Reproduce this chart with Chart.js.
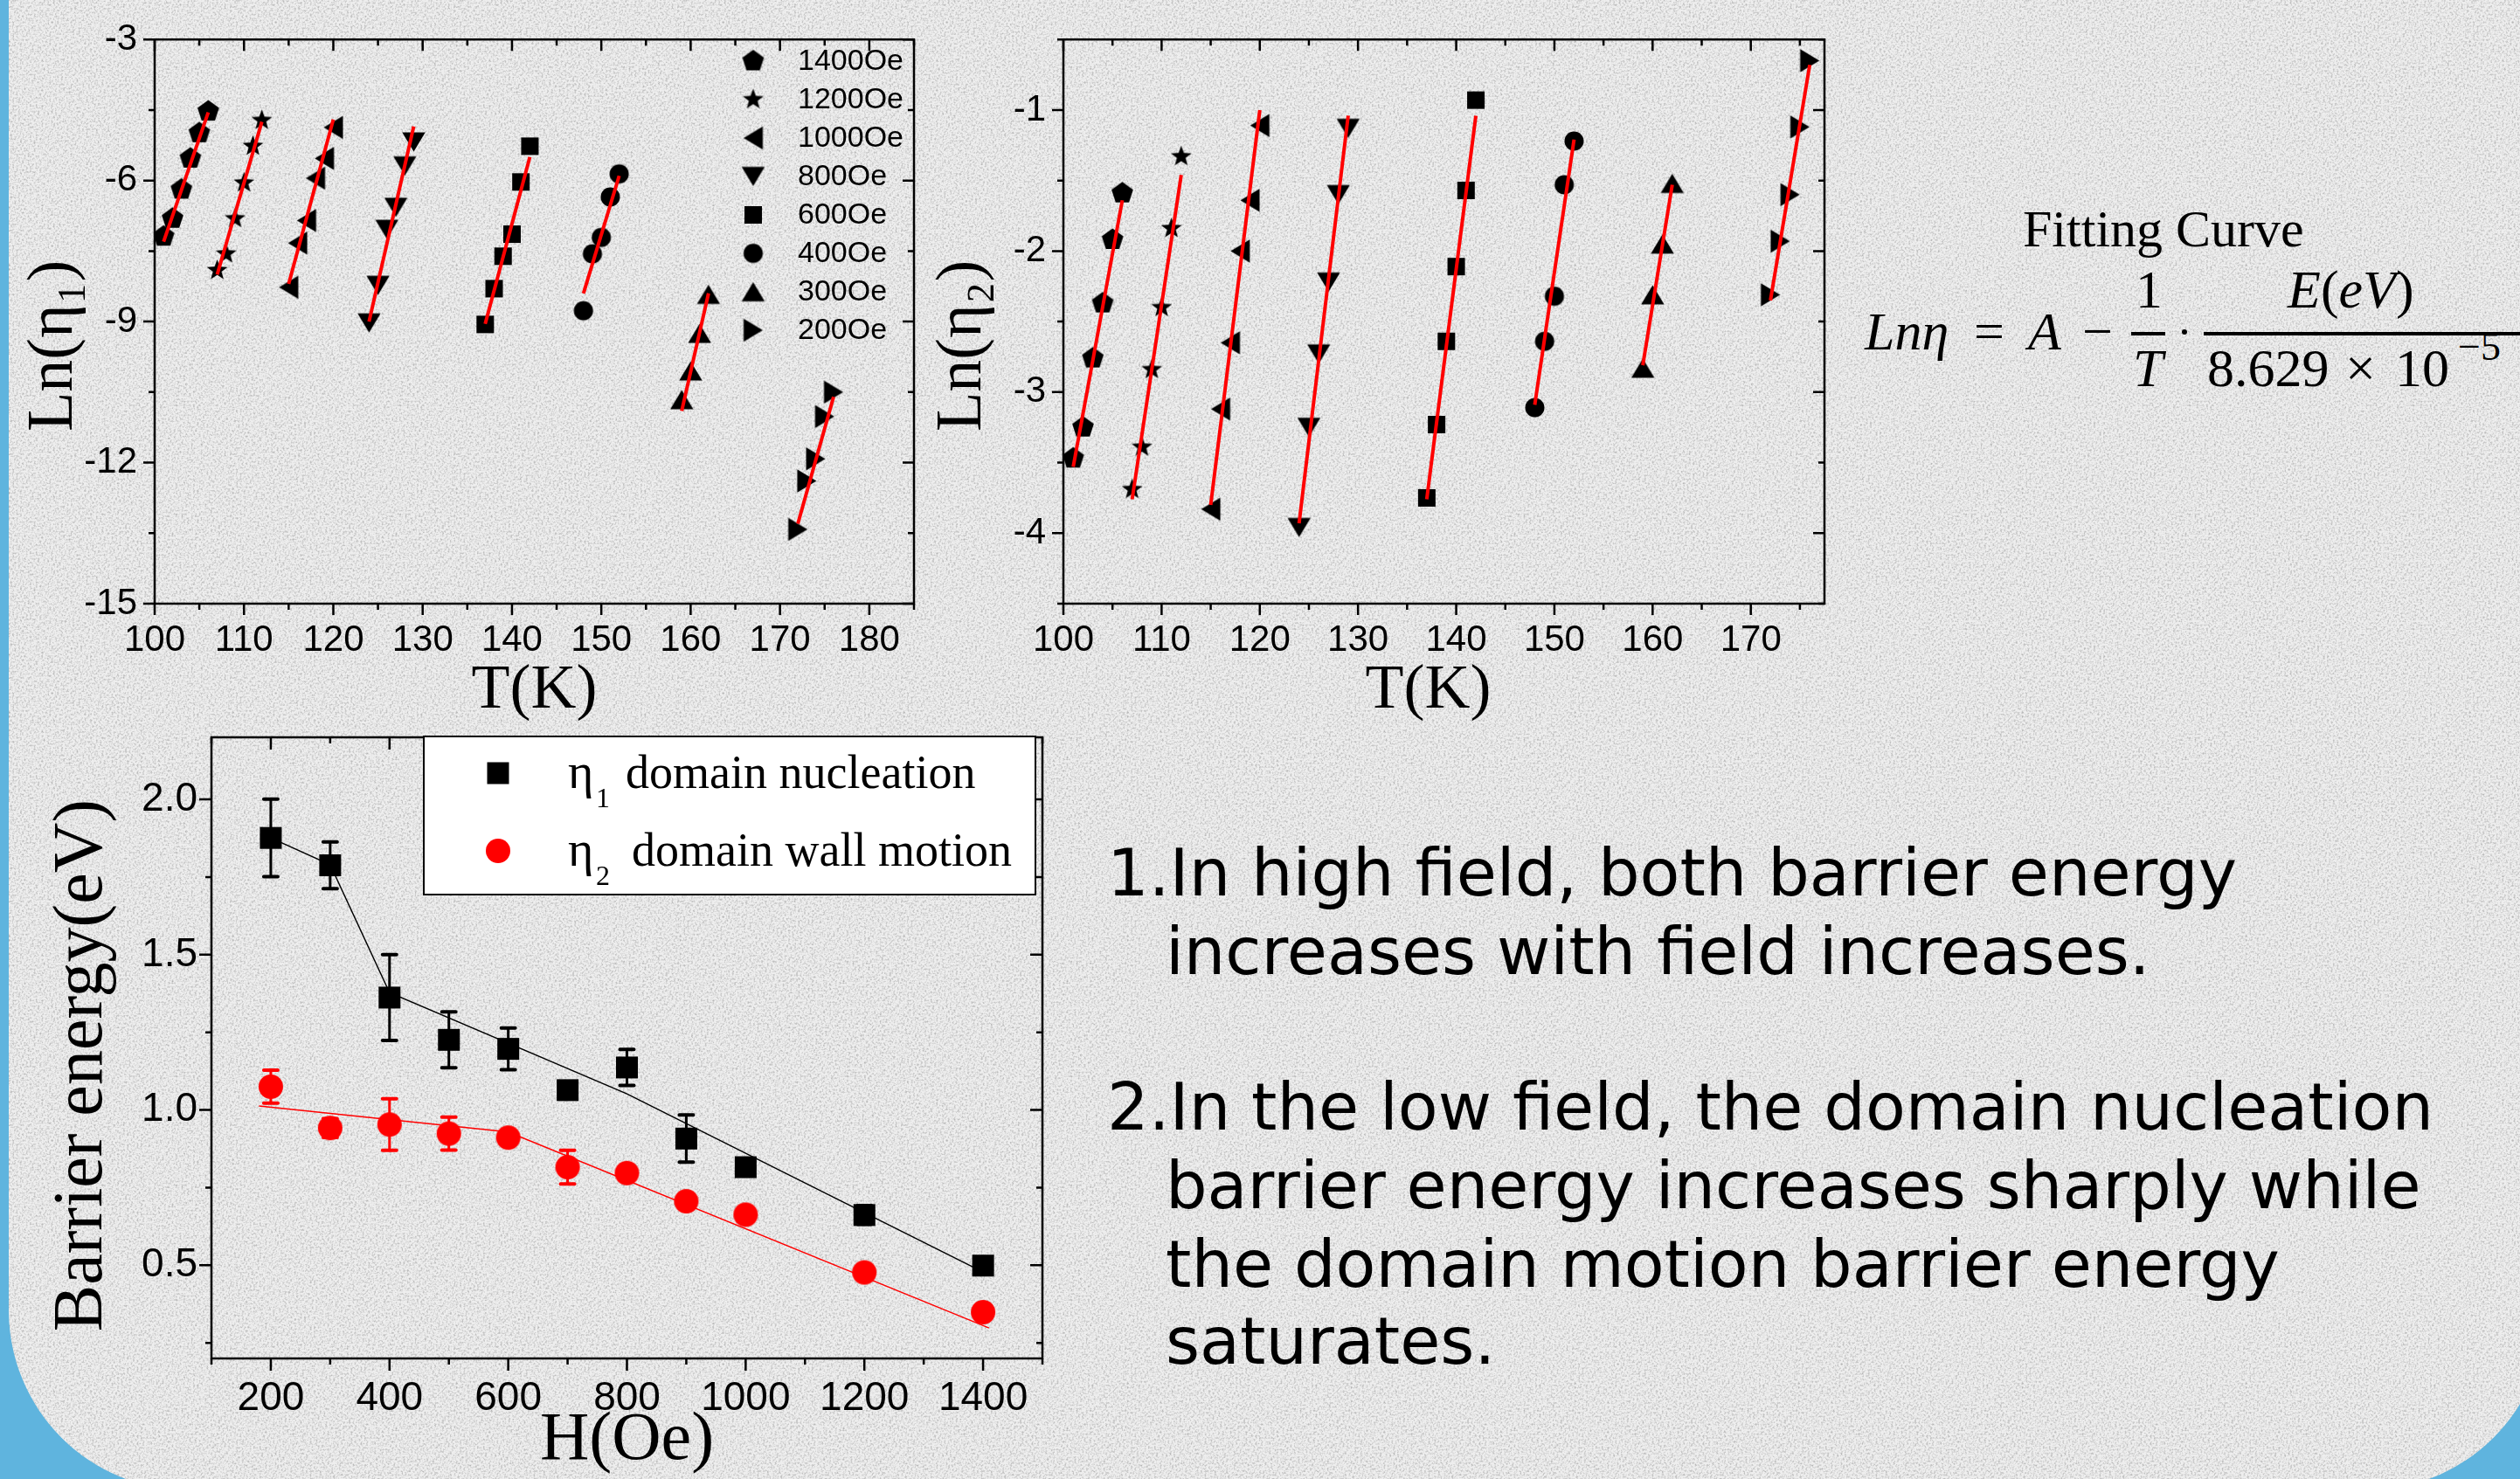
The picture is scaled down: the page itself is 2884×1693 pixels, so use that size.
<!DOCTYPE html>
<html>
<head>
<meta charset="utf-8">
<script src="https://cdn.jsdelivr.net/npm/chart.js@4.4.0/dist/chart.umd.min.js"></script>
<style>
html, body { margin: 0; padding: 0; width: 2884px; height: 1693px; overflow: hidden; background: #5fb4de; position: relative; }
#panel {
    position: absolute; left: 10px; top: -300px; width: 2904px; height: 2006px; border-radius: 206px;
    background: #eeeeee url("data:image/svg+xml,%3Csvg xmlns='http://www.w3.org/2000/svg' width='256' height='256'%3E%3Cfilter id='n'%3E%3CfeTurbulence type='fractalNoise' baseFrequency='0.45' numOctaves='2' stitchTiles='stitch'/%3E%3CfeColorMatrix values='0 0 0 0 0 0 0 0 0 0 0 0 0 0 0 0 0 0 -1.4 0.78'/%3E%3C/filter%3E%3Crect width='100%25' height='100%25' filter='url(%23n)' opacity='0.4'/%3E%3C/svg%3E");
}
canvas { position: absolute; display: block; }
#c1 { left: 0; top: 0; }
#c2 { left: 1040px; top: 0; }
#c3 { left: 0; top: 800px; }
.line { position: absolute; font-family: "DejaVu Sans", Verdana, sans-serif; font-size: 75px; line-height: 75px; color: #000; white-space: nowrap; }
.m { position: absolute; font-family: "Liberation Serif", "Times New Roman", serif; font-size: 62px; line-height: 62px; color: #000; white-space: nowrap; }
.i { font-style: italic; }
.bar { position: absolute; background: #000; height: 4px; }
</style>
</head>
<body>
<div id="panel"></div>
<canvas id="c1" width="1080" height="860"></canvas>
<canvas id="c2" width="1100" height="860"></canvas>
<canvas id="c3" width="1220" height="893"></canvas>

<div class="m" style="left:2315px; top:232px; font-size:60px; line-height:60px;">Fitting Curve</div>
<div class="m i" style="left:2134px; top:348px;">Lnη</div>
<div class="m" style="left:2259px; top:348px;">=</div>
<div class="m i" style="left:2321px; top:348px;">A</div>
<div class="m" style="left:2383px; top:348px;">−</div>
<div class="m" style="left:2444px; top:300px;">1</div>
<div class="bar" style="left:2439px; top:380px; width:39px;"></div>
<div class="m i" style="left:2441px; top:390px;">T</div>
<div class="bar" style="left:2497px; top:377px; width:6px; height:6px; border-radius:3px;"></div>
<div class="bar" style="left:2522px; top:380px; width:420px;"></div>
<div class="m" style="left:2618px; top:300px;"><span class="i">E</span>(<span class="i">eV</span>)</div>
<div class="m" style="left:2526px; top:390px;">8.629</div>
<div class="m" style="left:2684px; top:390px;">×</div>
<div class="m" style="left:2741px; top:390px;">10</div>
<div class="m" style="left:2813px; top:374px; font-size:46px; line-height:46px;">−5</div>

<div class="line" style="left:1267px; top:962px;">1.In high field, both barrier energy</div>
<div class="line" style="left:1334px; top:1052px;">increases with field increases.</div>
<div class="line" style="left:1267px; top:1230px;">2.In the low field, the domain nucleation</div>
<div class="line" style="left:1334px; top:1320px;">barrier energy increases sharply while</div>
<div class="line" style="left:1334px; top:1410px;">the domain motion barrier energy</div>
<div class="line" style="left:1334px; top:1498px;">saturates.</div>

<script>
// fields measured in the two Arrhenius panels (same order in every array below)
const fieldLabels = ['1400Oe', '1200Oe', '1000Oe', '800Oe', '600Oe', '400Oe', '300Oe', '200Oe'];
const fieldShapes = ['pentagon', 'star', 'left', 'down', 'square', 'circle', 'up', 'right'];

const temps = [
    [101, 102, 103, 104, 105, 106],
    [107, 108, 109, 110, 111, 112],
    [115, 116, 117, 118, 119, 120],
    [124, 125, 126, 127, 128, 129],
    [137, 138, 139, 140, 141, 142],
    [148, 149, 150, 151, 152],
    [159, 160, 161, 162],
    [172, 173, 174, 175, 176]
];

const lnEta1 = [
    [-7.19, -6.81, -6.19, -5.53, -4.99, -4.53],
    [-7.91, -7.56, -6.81, -6.05, -5.27, -4.72],
    [-8.27, -7.33, -6.85, -5.95, -5.53, -4.87],
    [-9.03, -8.23, -7.04, -6.57, -5.69, -5.18],
    [-9.06, -8.30, -7.61, -7.14, -6.03, -5.27],
    [-8.77, -7.56, -7.21, -6.35, -5.86],
    [-10.66, -10.05, -9.25, -8.42],
    [-13.42, -12.39, -11.92, -11.02, -10.50]
];

const lnEta2 = [
    [-3.47, -3.25, -2.76, -2.37, -1.92, -1.59],
    [-3.69, -3.39, -2.84, -2.40, -1.84, -1.33],
    [-3.83, -3.12, -2.65, -2.00, -1.64, -1.11],
    [-3.96, -3.25, -2.73, -2.22, -1.60, -1.13],
    [-3.75, -3.23, -2.64, -2.11, -1.57, -0.93],
    [-3.11, -2.64, -2.32, -1.53, -1.22],
    [-2.83, -2.31, -1.95, -1.52],
    [-2.31, -1.93, -1.60, -1.12, -0.65]
];

// end points of the red fitted lines
const fitT = [[101, 106], [107, 112], [115, 120], [124, 129], [137, 142], [148, 152], [159, 162], [172, 176]];
const fitEta1 = [[-7.3, -4.55], [-8.0, -4.75], [-8.2, -4.7], [-9.0, -4.85], [-9.05, -5.5], [-8.4, -5.9], [-10.9, -8.4], [-13.3, -10.6]];
const fitEta2 = [[-3.53, -1.64], [-3.76, -1.46], [-3.80, -1.0], [-3.93, -1.04], [-3.76, -1.04], [-3.09, -1.21], [-2.81, -1.53], [-2.35, -0.68]];

// barrier energy vs field
const fieldH = [200, 300, 400, 500, 600, 700, 800, 900, 1000, 1200, 1400];
const energyEta1 = [1.876, 1.788, 1.362, 1.226, 1.197, 1.064, 1.137, 0.908, 0.816, 0.662, 0.499];
const errorEta1 = [0.125, 0.075, 0.138, 0.09, 0.067, 0.02, 0.058, 0.076, 0.025, 0.03, 0.02];
const energyEta2 = [1.075, 0.942, 0.953, 0.924, 0.911, 0.816, 0.797, 0.706, 0.663, 0.477, 0.349];
const errorEta2 = [0.053, 0.03, 0.083, 0.053, 0.02, 0.054, 0.02, 0.02, 0.02, 0.02, 0.02];
const lineEta1H = [200, 300, 400, 800, 1400];
const lineEta1E = [1.876, 1.79, 1.378, 1.052, 0.478];
const lineEta2H = [180, 600, 1410];
const lineEta2E = [1.013, 0.929, 0.298];
const energyLabels = ['domain nucleation', 'domain wall motion'];
const energySubs = ['1', '2'];

// axis ticks (all marks, and the ones that carry a label)
const ticks1X = [100, 105, 110, 115, 120, 125, 130, 135, 140, 145, 150, 155, 160, 165, 170, 175, 180, 185];
const major1X = [100, 110, 120, 130, 140, 150, 160, 170, 180];
const ticks1Y = [-15, -13.5, -12, -10.5, -9, -7.5, -6, -4.5, -3];
const major1Y = [-15, -12, -9, -6, -3];
const ticks2X = [100, 105, 110, 115, 120, 125, 130, 135, 140, 145, 150, 155, 160, 165, 170, 175];
const major2X = [100, 110, 120, 130, 140, 150, 160, 170];
const ticks2Y = [-4.5, -4, -3.5, -3, -2.5, -2, -1.5, -1, -0.5];
const major2Y = [-4, -3, -2, -1];
const ticks3X = [100, 200, 300, 400, 500, 600, 700, 800, 900, 1000, 1100, 1200, 1300, 1400, 1500];
const major3X = [200, 400, 600, 800, 1000, 1200, 1400];
const ticks3Y = [0.25, 0.5, 0.75, 1.0, 1.25, 1.5, 1.75, 2.0];
const major3Y = [0.5, 1.0, 1.5, 2.0];

function marker(shape, d, color) {
    const c = document.createElement('canvas');
    const n = Math.ceil(d * 1.4) + 2;
    c.width = n;
    c.height = n;
    const g = c.getContext('2d');
    g.fillStyle = color;
    g.translate(n / 2, n / 2);
    const r = d / 2;
    g.beginPath();
    if (shape === 'square') {
        g.rect(-r, -r, d, d);
    } else if (shape === 'circle') {
        g.arc(0, 0, r, 0, Math.PI * 2);
    } else if (shape === 'pentagon' || shape === 'star') {
        const k = shape === 'star' ? 10 : 5;
        for (let i = 0; i < k; i++) {
            const a = -Math.PI / 2 + i * 2 * Math.PI / k;
            const rr = shape === 'star' && i % 2 ? r * 0.42 : r;
            g.lineTo(Math.cos(a) * rr, Math.sin(a) * rr);
        }
        g.closePath();
    } else {
        const rot = { up: 0, right: 90, down: 180, left: 270 }[shape] * Math.PI / 180;
        g.rotate(rot);
        g.moveTo(0, -r);
        g.lineTo(r * 1.2, r);
        g.lineTo(-r * 1.2, r);
        g.closePath();
    }
    g.fill();
    return c;
}

const shapeSize = { pentagon: 26, star: 25, left: 22, down: 22, up: 22, right: 22, square: 20, circle: 22 };
const fieldMarkers = fieldShapes.map(s => marker(s, shapeSize[s], '#000'));
const squareMarker = marker('square', 25, '#000');
const circleMarker = marker('circle', 28, '#ff0000');

function axis(o) {
    return {
        type: 'linear',
        min: o.min,
        max: o.max,
        grid: { display: false, drawTicks: false },
        border: { display: false },
        afterBuildTicks: s => { s.ticks = o.all.map(v => ({ value: v })); },
        afterFit: s => { if (s.isHorizontal()) s.height = o.size; else s.width = o.size; },
        ticks: {
            autoSkip: false,
            maxRotation: 0,
            padding: o.pad,
            color: '#000',
            font: { family: 'Liberation Sans', size: o.fontSize },
            callback: v => o.major.includes(v) ? o.fmt(v) : ''
        },
        title: {
            display: true,
            text: o.title,
            color: '#000',
            font: { family: 'Liberation Serif', size: o.titleSize, lineHeight: 1 },
            padding: o.titlePad
        }
    };
}

const framePlugin = {
    id: 'frame',
    afterDatasetsDraw(chart, args, o) {
        const { ctx, chartArea: a, scales: { x, y } } = chart;
        ctx.save();
        ctx.strokeStyle = '#000';
        ctx.lineWidth = o.width;
        ctx.beginPath();
        x.ticks.forEach(t => {
            const p = x.getPixelForValue(t.value);
            const l = t.label ? o.major : o.minor;
            ctx.moveTo(p, a.bottom);
            ctx.lineTo(p, a.bottom + l);
            ctx.moveTo(p, a.top);
            ctx.lineTo(p, a.top + l);
        });
        y.ticks.forEach(t => {
            const p = y.getPixelForValue(t.value);
            const l = t.label ? o.major : o.minor;
            ctx.moveTo(a.left, p);
            ctx.lineTo(a.left - l, p);
            ctx.moveTo(a.right, p);
            ctx.lineTo(a.right - l, p);
        });
        ctx.stroke();
        ctx.strokeRect(a.left, a.top, a.right - a.left, a.bottom - a.top);
        ctx.restore();
    }
};

const fieldLegend = {
    id: 'fieldLegend',
    afterDraw(chart, args, o) {
        if (!o.show) return;
        const { ctx } = chart;
        ctx.save();
        ctx.font = '34px "Liberation Sans"';
        ctx.fillStyle = '#000';
        ctx.textBaseline = 'middle';
        fieldLabels.forEach((lab, i) => {
            const yy = o.top + i * o.gap;
            const img = fieldMarkers[i];
            ctx.drawImage(img, o.markX - img.width / 2, yy - img.height / 2);
            ctx.fillText(lab, o.textX, yy + 1);
        });
        ctx.restore();
    }
};

const errorBars = {
    id: 'errorBars',
    beforeDatasetsDraw(chart) {
        const { ctx, scales: { x, y } } = chart;
        ctx.save();
        ctx.lineCap = 'round';
        chart.data.datasets.forEach(ds => {
            if (!ds.errors) return;
            ctx.strokeStyle = ds.errorColor;
            ds.data.forEach((p, i) => {
                const px = x.getPixelForValue(p.x);
                const top = y.getPixelForValue(p.y + ds.errors[i]);
                const bot = y.getPixelForValue(p.y - ds.errors[i]);
                ctx.lineWidth = 3;
                ctx.beginPath();
                ctx.moveTo(px, top);
                ctx.lineTo(px, bot);
                ctx.stroke();
                ctx.lineWidth = 4;
                ctx.beginPath();
                ctx.moveTo(px - 8, top);
                ctx.lineTo(px + 8, top);
                ctx.moveTo(px - 8, bot);
                ctx.lineTo(px + 8, bot);
                ctx.stroke();
            });
        });
        ctx.restore();
    }
};

const energyLegend = {
    id: 'energyLegend',
    afterDraw(chart, args, o) {
        if (!o.show) return;
        const { ctx } = chart;
        ctx.save();
        ctx.fillStyle = '#fff';
        ctx.fillRect(o.left, o.top, o.w, o.h);
        ctx.strokeStyle = '#000';
        ctx.lineWidth = 2;
        ctx.strokeRect(o.left, o.top, o.w, o.h);
        const marks = [squareMarker, circleMarker];
        energyLabels.forEach((lab, i) => {
            const base = o.rows[i];
            const img = marks[i];
            ctx.drawImage(img, o.markX - img.width / 2, base - 17 - img.height / 2);
            ctx.fillStyle = '#000';
            ctx.textBaseline = 'alphabetic';
            ctx.font = '56px "Liberation Serif"';
            ctx.fillText('η', o.etaX, base);
            ctx.font = '54px "Liberation Serif"';
            ctx.fillText(lab, o.textX[i], base);
            ctx.font = '32px "Liberation Serif"';
            ctx.fillText(energySubs[i], o.subX, base + 22);
        });
        ctx.restore();
    }
};

function arrheniusChart(id, values, fits, xr, yr, title, opts) {
    const fitSets = fieldLabels.map((lab, i) => ({
        label: lab + ' fit',
        data: fitT[i].map((t, j) => ({ x: t, y: fits[i][j] })),
        showLine: true,
        borderColor: '#ff0000',
        borderWidth: 4,
        pointRadius: 0
    }));
    const pointSets = fieldLabels.map((lab, i) => ({
        label: lab,
        data: temps[i].map((t, j) => ({ x: t, y: values[i][j] })),
        pointStyle: fieldMarkers[i],
        pointRadius: 11,
        showLine: false
    }));
    return new Chart(document.getElementById(id), {
        type: 'scatter',
        data: { datasets: fitSets.concat(pointSets) },
        options: {
            responsive: false,
            animation: false,
            devicePixelRatio: 1,
            layout: { padding: opts.padding },
            plugins: {
                legend: { display: false },
                tooltip: { enabled: false },
                frame: { width: 2.5, major: 13, minor: 7 },
                fieldLegend: opts.legend
            },
            scales: {
                x: axis({ min: xr.min, max: xr.max, all: xr.all, major: xr.major, fmt: v => String(v), size: 169, pad: 17, fontSize: 42,
                    title: opts.xTitle, titleSize: 72, titlePad: { top: 0, bottom: 33 } }),
                y: axis({ min: yr.min, max: yr.max, all: yr.all, major: yr.major, fmt: v => String(v), size: 177, pad: 20, fontSize: 42,
                    title: title, titleSize: 74, titlePad: { top: opts.titleTop, bottom: 0 } })
            }
        },
        plugins: [framePlugin, fieldLegend]
    });
}

arrheniusChart('c1', lnEta1, fitEta1,
    { min: 100, max: 185, all: ticks1X, major: major1X },
    { min: -15, max: -3, all: ticks1Y, major: major1Y },
    'Ln(η₁)   ',
    { padding: { top: 44, right: 34, left: 0, bottom: 0 }, titleTop: 26, xTitle: 'T(K)', legend: { show: true, markX: 862, textX: 913, top: 70, gap: 44 } });

arrheniusChart('c2', lnEta2, fitEta2,
    { min: 100, max: 177.5, all: ticks2X, major: major2X },
    { min: -4.5, max: -0.5, all: ticks2Y, major: major2Y },
    'Ln(η₂)   ',
    { padding: { top: 45, right: 52, left: 0, bottom: 0 }, titleTop: 26, xTitle: 'T(K)  ', legend: { show: false } });

new Chart(document.getElementById('c3'), {
    type: 'scatter',
    data: {
        datasets: [
            {
                label: 'η1 domain nucleation',
                data: fieldH.map((h, i) => ({ x: h, y: energyEta1[i] })),
                errors: errorEta1,
                errorColor: '#000',
                pointStyle: squareMarker,
                pointRadius: 12,
                showLine: false
            },
            {
                label: 'η2 domain wall motion',
                data: fieldH.map((h, i) => ({ x: h, y: energyEta2[i] })),
                errors: errorEta2,
                errorColor: '#ff0000',
                pointStyle: circleMarker,
                pointRadius: 13,
                showLine: false
            },
            {
                label: 'η1 line',
                data: lineEta1H.map((h, i) => ({ x: h, y: lineEta1E[i] })),
                showLine: true,
                borderColor: '#000',
                borderWidth: 1.5,
                pointRadius: 0
            },
            {
                label: 'η2 line',
                data: lineEta2H.map((h, i) => ({ x: h, y: lineEta2E[i] })),
                showLine: true,
                borderColor: '#ff0000',
                borderWidth: 1.5,
                pointRadius: 0
            }
        ]
    },
    options: {
        responsive: false,
        animation: false,
        devicePixelRatio: 1,
        layout: { padding: { top: 44, right: 27, left: 0, bottom: 0 } },
        plugins: {
            legend: { display: false },
            tooltip: { enabled: false },
            frame: { width: 2.5, major: 14, minor: 7 },
            energyLegend: { show: true, left: 485, top: 43, w: 700, h: 181, markX: 570, etaX: 650, subX: 682, textX: [716, 723], rows: [102, 191] }
        },
        scales: {
            x: axis({ min: 100, max: 1500, all: ticks3X, major: major3X, fmt: v => String(v), size: 138, pad: 19, fontSize: 46,
                title: 'H(Oe)', titleSize: 78, titlePad: { top: 0, bottom: 4 } }),
            y: axis({ min: 0.2, max: 2.2, all: ticks3Y, major: major3Y, fmt: v => v.toFixed(1), size: 242, pad: 16, fontSize: 46,
                title: 'Barrier energy(eV)  ', titleSize: 80, titlePad: { top: 55, bottom: 0 } })
        }
    },
    plugins: [errorBars, framePlugin, energyLegend]
});
</script>
</body>
</html>
